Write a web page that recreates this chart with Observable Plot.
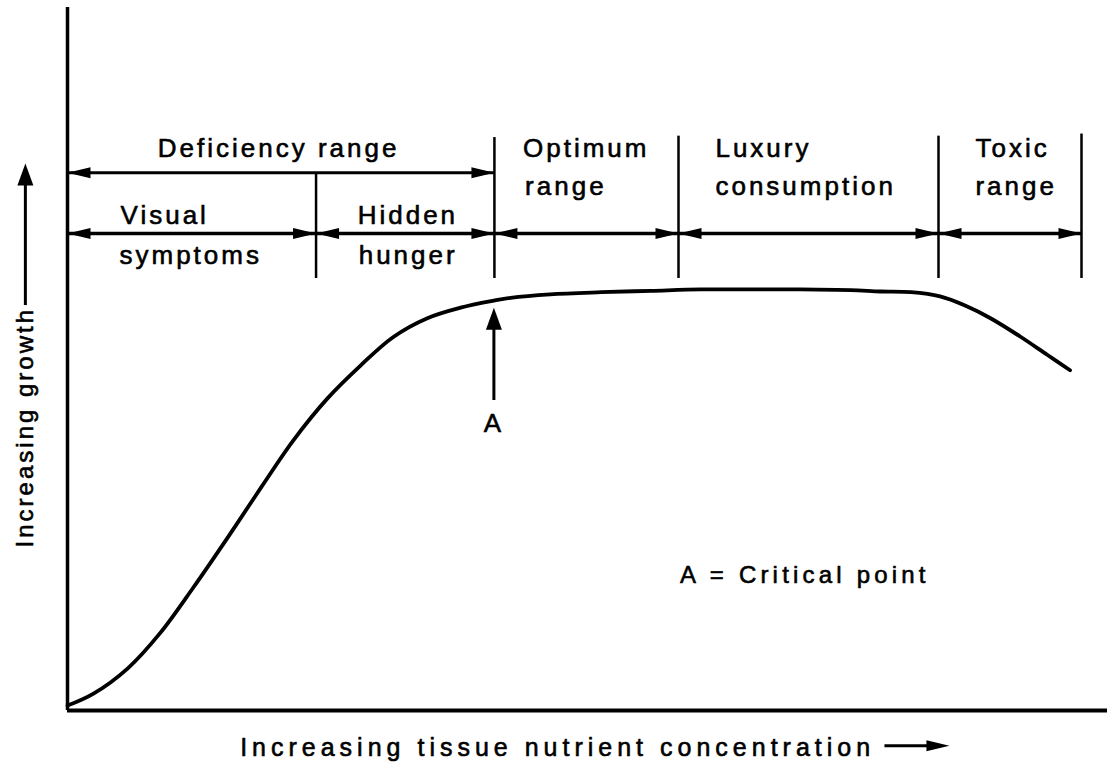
<!DOCTYPE html>
<html>
<head>
<meta charset="utf-8">
<script src="https://cdn.jsdelivr.net/npm/d3@7"></script>
<script src="https://cdn.jsdelivr.net/npm/@observablehq/plot@0.6"></script>
<style>
  html, body { margin: 0; padding: 0; background: #fff; }
  svg text { letter-spacing: 3px; }
</style>
</head>
<body>
<div id="chart"></div>
<script>
// Growth response curve (x: tissue nutrient concentration 0..100, y: growth 0..100)
const curveX = [0, 2.5, 5.8, 8.9, 12.1, 15.4, 18.6, 21.7, 25.0, 28.2, 31.3, 34.6, 37.8, 41.0, 42.6, 46.4, 51.3, 56.1, 60.9, 65.7, 70.5, 75.3, 78.2, 81.1, 83.9, 86.3, 88.75, 91.6, 94.2, 96.4];
const curveY = [0.7, 2.4, 6.0, 11.0, 17.5, 24.6, 31.7, 38.4, 44.4, 49.1, 53.1, 55.8, 57.3, 58.3, 58.7, 59.2, 59.5, 59.7, 59.9, 59.9, 59.9, 59.8, 59.6, 59.5, 58.9, 57.6, 55.8, 53.2, 50.6, 48.4];

// Range boundaries (concentration units)
const boundaries = [0, 23.9, 41.05, 58.75, 83.75, 97.5];
const boundaryTop = [null, 76.5, 81.5, 81.7, 81.7, 82.0];
const boundaryBottom = 61.45;
const deficiencyLevel = 76.5;   // growth level of "Deficiency range" arrow
const subRangeLevel = 67.85;    // growth level of sub-range arrows

// Critical point A
const criticalX = 41.0;
const criticalY = 57.3;
const criticalArrowBase = 44.1;

// Labels
const centeredText = ["Deficiency range"];
const centeredX = [20.3];
const centeredY = [79.9];
const labelText = ["Optimum", "range", "Luxury", "consumption", "Toxic", "range", "Visual", "symptoms", "Hidden", "hunger"];
const labelX    = [43.8, 44.0, 62.3, 62.3, 87.3, 87.3, 5.1, 5.0, 27.9, 28.0];
const labelY    = [79.9, 74.5, 79.9, 74.5, 79.9, 74.5, 70.4, 64.7, 70.4, 64.7];

const xTitle = "Increasing tissue nutrient concentration";
const yTitle = "Increasing growth";
const legendText = "A = Critical point";

const curve = curveX.map((x, i) => ({x, y: curveY[i]}));
const labels = labelText.map((t, i) => ({t, x: labelX[i], y: labelY[i]}));
const centered = centeredText.map((t, i) => ({t, x: centeredX[i], y: centeredY[i]}));
const subRanges = boundaries.slice(0, -1).map((b, i) => ({x1: b, x2: boundaries[i + 1]}));
const dividers = boundaries.slice(1).map((b, i) => ({x: b, y1: boundaryBottom, y2: boundaryTop[i + 1]}));

// Filled arrowhead symbols (tip at origin)
const headRight = {draw(c) { c.moveTo(0, 0); c.lineTo(-23, -5.5); c.lineTo(-23, 5.5); c.closePath(); }};
const headLeft  = {draw(c) { c.moveTo(0, 0); c.lineTo(23, -5.5); c.lineTo(23, 5.5); c.closePath(); }};
const headUp    = {draw(c) { c.moveTo(0, 0); c.lineTo(-8, 22); c.lineTo(8, 22); c.closePath(); }};

const leftHeads = [{x: 0, y: deficiencyLevel}, ...subRanges.map(s => ({x: s.x1, y: subRangeLevel}))];
const rightHeads = [{x: boundaries[2], y: deficiencyLevel}, ...subRanges.map(s => ({x: s.x2, y: subRangeLevel}))];

const textStyle = {fill: "black", stroke: "black", strokeWidth: 0.6};
const yLabelX = -4.05;
const chart = Plot.plot({
  width: 1107,
  height: 765,
  x: {domain: [0, 100], range: [67, 1107], axis: null},
  y: {domain: [0, 100], range: [710, 7], axis: null},
  style: {fontFamily: "'Liberation Sans', Arial, sans-serif", background: "#fff"},
  marks: [
    // axes
    Plot.ruleX([0], {y1: 0, y2: 100, stroke: "black", strokeWidth: 3.5}),
    Plot.ruleY([0], {x1: 0, x2: 100, stroke: "black", strokeWidth: 4}),
    // curve
    Plot.line(curve, {x: "x", y: "y", curve: "catmull-rom", stroke: "black", strokeWidth: 3.8}),
    // range dividers
    Plot.ruleX(dividers, {x: "x", y1: "y1", y2: "y2", stroke: "black", strokeWidth: 2.5}),
    // range arrows
    Plot.ruleY([deficiencyLevel], {x1: 0, x2: boundaries[2], stroke: "black", strokeWidth: 3}),
    Plot.ruleY(subRanges, {x1: "x1", x2: "x2", y: subRangeLevel, stroke: "black", strokeWidth: 3.5}),
    Plot.dot(leftHeads, {x: "x", y: "y", symbol: headLeft, fill: "black", stroke: null}),
    Plot.dot(rightHeads, {x: "x", y: "y", symbol: headRight, fill: "black", stroke: null}),
    // critical point arrow
    Plot.ruleX([criticalX], {y1: criticalArrowBase, y2: criticalY - 2, stroke: "black", strokeWidth: 3}),
    Plot.dot([{x: criticalX, y: criticalY}], {x: "x", y: "y", symbol: headUp, fill: "black", stroke: null}),
    Plot.text(["A"], {x: criticalX, y: 40.8, fontSize: 26, textAnchor: "middle", ...textStyle}),
    // range labels
    Plot.text(centered, {x: "x", y: "y", text: "t", textAnchor: "middle", fontSize: 26, ...textStyle}),
    Plot.text(labels, {x: "x", y: "y", text: "t", textAnchor: "start", fontSize: 26, ...textStyle}),
    // legend
    Plot.text([legendText], {x: 58.9, y: 19.2, textAnchor: "start", fontSize: 24, ...textStyle}),
    // x title with arrow
    Plot.text([xTitle], {x: 16.6, y: -5.3, textAnchor: "start", fontSize: 25, ...textStyle}),
    Plot.ruleY([-5.0], {x1: 78.6, x2: 83.0, stroke: "black", strokeWidth: 3}),
    Plot.dot([{x: 84.8, y: -5.0}], {x: "x", y: "y", symbol: headRight, fill: "black", stroke: null}),
    // y title with arrow
    Plot.text([yTitle], {x: yLabelX, y: 40.3, rotate: -90, textAnchor: "middle", fontSize: 24, ...textStyle}),
    Plot.ruleX([yLabelX], {y1: 57.6, y2: 75.5, stroke: "black", strokeWidth: 3}),
    Plot.dot([{x: yLabelX, y: 77.8}], {x: "x", y: "y", symbol: headUp, fill: "black", stroke: null})
  ]
});
// wider tracking for the axis title and legend, as in the original typesetting
const tracking = new Map([[xTitle, "5px"], [legendText, "4.2px"]]);
d3.select(chart).selectAll("text").each(function() {
  const ls = tracking.get(this.textContent);
  if (ls) this.style.letterSpacing = ls;
});
document.getElementById("chart").appendChild(chart);
</script>
</body>
</html>
